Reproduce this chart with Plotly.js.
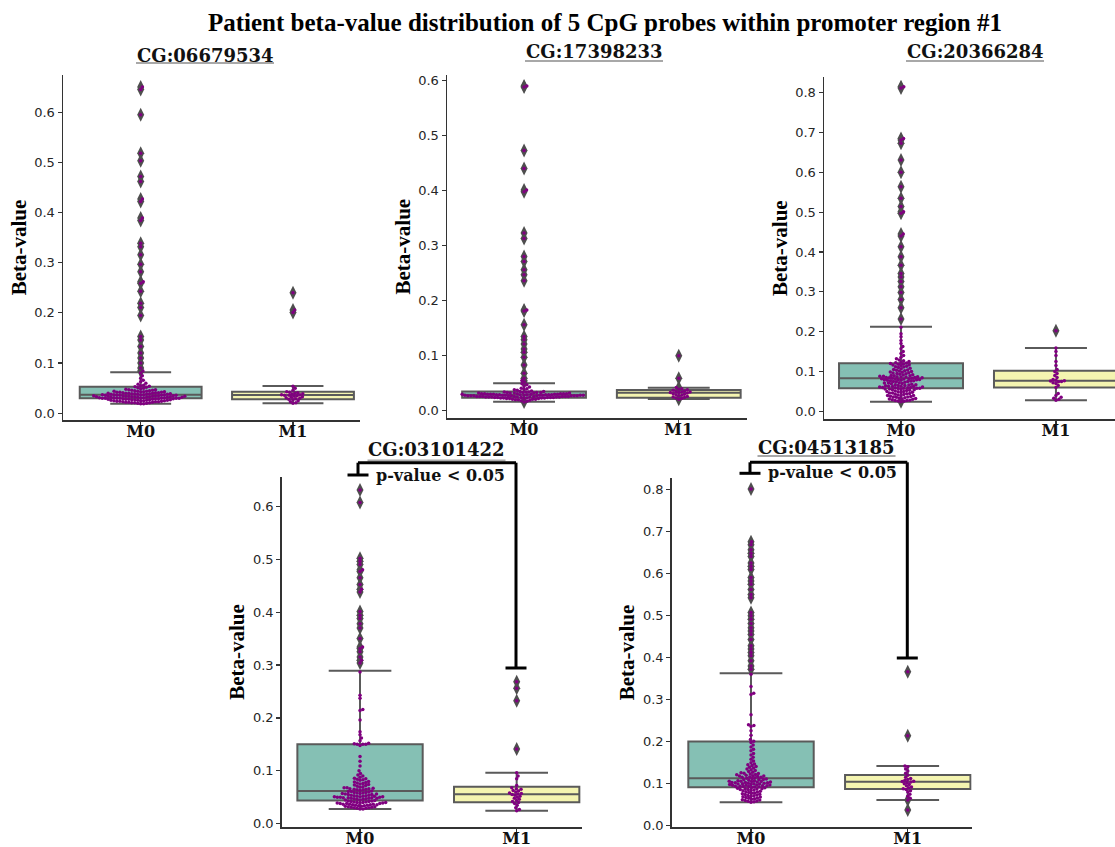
<!DOCTYPE html>
<html>
<head>
<meta charset="utf-8">
<script src="https://cdn.plot.ly/plotly-3.0.1.min.js"></script>
<style>html,body{margin:0;padding:0;background:#fff;}#chart{width:1115px;height:847px;}</style>
</head>
<body>
<div id="chart"></div>
<script>
// ---------------- DATA ----------------
const mainTitle = 'Patient beta-value distribution of 5 CpG probes within promoter region #1';
const probes = ['CG:06679534', 'CG:17398233', 'CG:20366284', 'CG:03101422', 'CG:04513185'];
const groups = ['M0', 'M1'];
const yTitle = 'Beta-value';
const pLabel = 'p-value &lt; 0.05';

// box statistics per probe: [M0, M1]
const q1Vals     = [[0.030, 0.028], [0.0236, 0.0236], [0.0577, 0.060], [0.044, 0.0404], [0.0913, 0.0873]];
const medianVals = [[0.037, 0.0365], [0.029, 0.0327], [0.0828, 0.077], [0.0618, 0.0555], [0.1127, 0.1046]];
const q3Vals     = [[0.053, 0.043], [0.035, 0.0376], [0.1205, 0.102], [0.150, 0.070], [0.200, 0.1206]];
const lowerVals  = [[0.019, 0.020], [0.0164, 0.0213], [0.0241, 0.028], [0.0278, 0.0246], [0.0556, 0.0611]];
const upperVals  = [[0.0817, 0.0544], [0.0498, 0.0418], [0.2125, 0.159], [0.289, 0.0965], [0.3624, 0.142]];

// patient beta-values
const cg06679534_M0 = [0.650,0.645,0.595,0.518,0.503,0.472,0.462,0.427,0.422,0.389,0.384,0.339,0.332,0.316,0.297,0.282,0.262,0.259,0.243,0.219,0.211,0.195,0.153,0.146,0.133,0.120,0.110,0.100,0.090,0.084,
0.080,0.075,0.070,0.066,0.063,0.060,0.058,0.056,0.055,0.054,
0.053,0.052,0.051,0.050,0.049,0.048,0.047,0.047,0.046,0.046,0.045,0.045,0.044,0.044,0.044,0.043,0.043,0.043,0.042,0.042,0.042,0.041,0.041,0.041,0.040,0.040,0.040,0.040,0.039,0.039,0.039,0.039,0.038,0.038,0.038,0.038,0.037,0.037,
0.037,0.037,0.037,0.036,0.036,0.036,0.036,0.036,0.035,0.035,0.035,0.035,0.035,0.034,0.034,0.034,0.034,0.034,0.033,0.033,0.033,0.033,0.033,0.032,0.032,0.032,0.032,0.032,0.031,0.031,0.031,0.031,0.031,0.030,0.030,0.030,0.030,0.030,
0.030,0.030,0.029,0.029,0.029,0.029,0.028,0.028,0.028,0.028,0.027,0.027,0.027,0.027,0.026,0.026,0.026,0.026,0.025,0.025,0.025,0.025,0.024,0.024,0.024,0.023,0.023,0.023,0.022,0.022,0.022,0.021,0.021,0.021,0.020,0.020,0.019,0.019];
const cg06679534_M1 = [0.240,0.206,0.201,0.054,0.050,0.046,0.043,0.042,0.041,0.040,0.039,0.038,0.037,0.037,0.036,0.036,0.035,0.034,0.033,0.032,0.031,0.030,0.029,0.028,0.027,0.025,0.023,0.021,0.020];

const cg17398233_M0 = [0.590,0.588,0.473,0.440,0.401,0.398,0.323,0.313,0.280,0.271,0.256,0.247,0.236,0.183,0.181,0.156,0.135,0.129,0.121,0.112,0.106,0.097,0.083,0.068,0.059,0.055,0.052,
0.049,0.047,0.045,0.043,0.041,0.040,0.039,0.038,0.037,0.036,
0.035,0.035,0.034,0.034,0.034,0.033,0.033,0.033,0.033,0.032,0.032,0.032,0.032,0.032,0.031,0.031,0.031,0.031,0.031,0.031,0.030,0.030,0.030,0.030,0.030,0.030,0.030,0.029,0.029,0.029,0.029,0.029,0.029,0.029,
0.028,0.028,0.028,0.028,0.028,0.028,0.028,0.028,0.027,0.027,0.027,0.027,0.027,0.027,0.027,0.027,0.027,0.026,0.026,0.026,0.026,0.026,0.026,0.026,0.026,0.025,0.025,0.025,0.025,0.025,0.025,0.025,0.024,0.024,0.024,0.024,0.024,0.024,
0.023,0.023,0.023,0.023,0.023,0.022,0.022,0.022,0.022,0.021,0.021,0.021,0.020,0.020,0.019,0.018,0.017,0.016];
const cg17398233_M1 = [0.100,0.059,0.042,0.040,0.039,0.038,0.037,0.036,0.035,0.034,0.034,0.033,0.033,0.032,0.031,0.030,0.029,0.028,0.027,0.026,0.025,0.024,0.023,0.022,0.021];

const cg20366284_M0 = [0.815,0.812,0.685,0.681,0.673,0.631,0.600,0.564,0.535,0.514,0.501,0.497,0.445,0.440,0.413,0.388,0.367,0.346,0.337,0.326,0.313,0.298,0.281,0.260,0.232,
0.211,0.195,0.187,0.178,0.170,0.163,0.157,0.150,0.145,0.140,0.136,0.132,0.129,0.127,0.125,0.123,0.122,0.121,
0.120,0.119,0.118,0.117,0.116,0.115,0.113,0.112,0.111,0.110,0.108,0.107,0.105,0.104,0.103,0.102,0.101,0.100,0.099,0.098,0.097,0.096,0.095,0.094,0.093,0.092,0.091,0.090,0.089,0.089,0.088,0.088,0.087,0.087,0.086,0.086,0.085,0.085,0.084,0.084,0.083,0.083,
0.082,0.082,0.081,0.081,0.080,0.080,0.079,0.079,0.078,0.078,0.077,0.077,0.076,0.075,0.075,0.074,0.073,0.072,0.071,0.071,0.070,0.069,0.068,0.067,0.067,0.066,0.065,0.065,0.064,0.063,0.063,0.062,0.062,0.061,0.061,0.060,0.060,0.059,0.059,0.058,0.058,0.058,
0.057,0.056,0.056,0.055,0.054,0.054,0.053,0.052,0.051,0.050,0.050,0.049,0.048,0.047,0.046,0.046,0.045,0.044,0.043,0.042,0.041,0.040,0.040,0.039,0.038,0.037,0.036,0.036,0.035,0.034,0.033,0.032,0.031,0.031,0.030,0.029,0.028,0.027,0.027,0.026,0.025,0.024];
const cg20366284_M1 = [0.202,0.159,0.150,0.140,0.125,0.115,0.105,0.100,0.095,0.090,0.085,0.080,0.078,0.077,0.076,0.075,0.074,0.072,0.070,0.065,0.060,0.045,0.040,0.035,0.033,0.030,0.028];

const cg03101422_M0 = [0.631,0.607,0.502,0.496,0.490,0.480,0.477,0.465,0.452,0.443,0.438,0.401,0.394,0.388,0.378,0.370,0.350,0.334,0.331,0.325,0.315,0.309,0.304,
0.287,0.243,0.237,0.216,0.214,0.196,0.174,0.168,0.162,0.157,0.152,0.151,0.150,0.150,
0.150,0.148,0.127,0.118,0.109,0.100,0.095,0.092,0.090,0.088,0.086,0.085,0.084,0.083,0.082,0.080,0.079,0.078,0.077,0.076,0.075,0.074,0.073,0.072,0.071,0.070,0.069,0.068,0.068,0.067,0.066,0.066,0.065,0.065,0.064,0.064,0.063,0.062,
0.061,0.061,0.060,0.059,0.059,0.058,0.058,0.057,0.057,0.056,0.056,0.055,0.055,0.054,0.054,0.053,0.053,0.052,0.052,0.052,0.051,0.051,0.051,0.050,0.050,0.050,0.049,0.049,0.049,0.048,0.048,0.048,0.047,0.047,0.046,0.046,0.045,0.045,
0.044,0.043,0.043,0.042,0.042,0.041,0.041,0.040,0.040,0.040,0.039,0.039,0.039,0.038,0.038,0.038,0.037,0.037,0.037,0.036,0.036,0.036,0.035,0.035,0.034,0.034,0.033,0.033,0.032,0.032,0.031,0.031,0.030,0.030,0.029,0.029,0.028,0.028];
const cg03101422_M1 = [0.2685,0.256,0.2326,0.1412,0.0965,0.090,0.085,0.072,0.068,0.066,0.065,0.063,0.062,0.060,0.058,0.057,0.056,0.055,0.054,0.052,0.050,0.048,0.046,0.044,0.042,0.040,0.038,0.035,0.030,0.027,0.0246];

const cg04513185_M0 = [0.801,0.675,0.668,0.656,0.648,0.640,0.625,0.617,0.609,0.590,0.582,0.574,0.562,0.550,0.542,0.507,0.499,0.491,0.481,0.471,0.463,0.455,0.443,0.428,0.420,0.412,0.404,0.392,0.380,0.372,
0.360,0.331,0.315,0.312,0.264,0.240,0.238,0.236,0.226,0.215,0.205,0.201,
0.198,0.192,0.187,0.182,0.178,0.172,0.168,0.163,0.158,0.154,0.150,0.147,0.145,0.143,0.141,0.139,0.137,0.135,0.133,0.131,0.129,0.127,0.126,0.125,0.124,0.123,0.122,0.121,0.120,0.119,0.118,0.118,0.117,0.116,0.115,0.115,0.114,0.113,
0.112,0.111,0.110,0.110,0.109,0.108,0.107,0.107,0.106,0.106,0.105,0.105,0.104,0.104,0.103,0.103,0.102,0.102,0.101,0.101,0.100,0.100,0.099,0.099,0.098,0.098,0.097,0.097,0.096,0.096,0.095,0.095,0.094,0.094,0.093,0.093,0.092,0.092,
0.091,0.090,0.089,0.088,0.088,0.087,0.086,0.086,0.085,0.084,0.083,0.082,0.081,0.080,0.079,0.078,0.077,0.076,0.075,0.074,0.073,0.072,0.071,0.070,0.069,0.068,0.067,0.066,0.065,0.064,0.063,0.062,0.061,0.060,0.059,0.058,0.057,0.056];
const cg04513185_M1 = [0.366,0.214,0.0373,0.142,0.140,0.135,0.130,0.125,0.120,0.115,0.112,0.110,0.108,0.106,0.105,0.104,0.103,0.100,0.098,0.095,0.092,0.090,0.088,0.086,0.083,0.080,0.075,0.070,0.065,0.061];

const betaValues = [
  [cg06679534_M0, cg06679534_M1],
  [cg17398233_M0, cg17398233_M1],
  [cg20366284_M0, cg20366284_M1],
  [cg03101422_M0, cg03101422_M1],
  [cg04513185_M0, cg04513185_M1]
];

// ---------------- LAYOUT / STYLE ----------------
const W = 1115, H = 847;
const px2x = p => p / W;
const px2y = p => 1 - p / H;

// pixel frame of each panel (left, right, top, bottom) and axis ranges
const frames = [
  {l: 63,    r: 360,   t: 75,    b: 420,   xr: [-0.51, 1.44],  yr: [-0.0134, 0.674]},
  {l: 447,   r: 747,   t: 75,    b: 418.3, xr: [-0.498, 1.441], yr: [-0.0138, 0.610]},
  {l: 824,   r: 1115,  t: 77.3,  b: 419,   xr: [-0.497, 1.381], yr: [-0.0193, 0.8386]},
  {l: 281.7, r: 582,   t: 476.7, b: 827.3, xr: [-0.5, 1.417],   yr: [-0.0068, 0.656]},
  {l: 671.7, r: 971.7, t: 477.7, b: 827.3, xr: [-0.506, 1.408], yr: [-0.0038, 0.8276]}
];
const titlePos = [[205, 55, 63], [594, 52, 61], [975, 52, 61], [436.5, 449, 460.5], [826.5, 447.5, 456]];
const titleHalfW = 69;

const boxFill = ['#85c0b4', '#f4f4b0'];
const edge = '#5a5a5a';
const swarmColor = '#800080';
const flierColor = '#4e4e4e';
const dotSize = 3.5, dotGap = 3.0;

// beeswarm placement (pixel space), closest-to-centre like seaborn
function swarmOffsets(vals, pxPerY, d, maxHalf) {
  const order = vals.map((v, i) => i).sort((a, b) => vals[a] - vals[b]);
  const placed = [];
  const offs = new Array(vals.length).fill(0);
  for (const i of order) {
    const y = vals[i] * pxPerY;
    const near = placed.filter(p => Math.abs(p.y - y) < d);
    const cands = [0];
    near.forEach(p => {
      const dx = Math.sqrt(d * d - (p.y - y) * (p.y - y));
      cands.push(p.x + dx, p.x - dx);
    });
    cands.sort((a, b) => Math.abs(a) - Math.abs(b));
    let chosen = 0;
    for (const c of cands) {
      if (near.every(p => (p.x - c) * (p.x - c) + (p.y - y) * (p.y - y) >= d * d - 1e-6)) { chosen = c; break; }
    }
    placed.push({x: chosen, y: y});
    offs[i] = Math.max(-maxHalf, Math.min(maxHalf, chosen));
  }
  return offs;
}

const traces = [];
const layout = {
  width: W, height: H,
  margin: {l: 0, r: 0, t: 0, b: 0},
  paper_bgcolor: '#fff', plot_bgcolor: '#fff',
  showlegend: false,
  title: {
    text: '<b>' + mainTitle + '</b>',
    font: {family: 'Liberation Serif', size: 25, color: '#000'},
    x: px2x(605), xanchor: 'center', y: px2y(22), yanchor: 'middle'
  },
  annotations: [],
  shapes: []
};

probes.forEach((probe, k) => {
  const f = frames[k];
  const sfx = k === 0 ? '' : String(k + 1);
  const xa = 'x' + sfx, ya = 'y' + sfx;
  const pxPerX = (f.r - f.l) / (f.xr[1] - f.xr[0]);
  const pxPerY = (f.b - f.t) / (f.yr[1] - f.yr[0]);

  layout['xaxis' + sfx] = {
    domain: [px2x(f.l), px2x(f.r)], range: f.xr, anchor: ya,
    tickvals: [0, 1], ticktext: groups.map(g => '<b>' + g + '</b>'),
    tickfont: {family: 'DejaVu Serif', size: 16, color: '#111'},
    ticklabelstandoff: -8,
    showline: true, linecolor: '#333', linewidth: 1.5,
    ticks: 'outside', ticklen: 4, tickwidth: 1.2, tickcolor: '#333',
    showgrid: false, zeroline: false, fixedrange: true
  };
  layout['yaxis' + sfx] = {
    domain: [px2y(f.b), px2y(f.t)], range: f.yr, anchor: xa,
    tick0: 0, dtick: 0.1, tickformat: '.1f',
    tickfont: {family: 'DejaVu Sans', size: 13, color: '#262626'},
    showline: true, linecolor: '#333', linewidth: 1.5,
    ticks: 'outside', ticklen: 4, tickwidth: 1.2, tickcolor: '#333',
    showgrid: false, zeroline: false, fixedrange: true,
    title: {text: '<b>' + yTitle + '</b>', font: {family: 'Liberation Serif', size: 21, color: '#000'}, standoff: 2}
  };

  groups.forEach((g, gi) => {
    traces.push({
      type: 'box', name: g, x: [gi],
      q1: [q1Vals[k][gi]], median: [medianVals[k][gi]], q3: [q3Vals[k][gi]],
      lowerfence: [lowerVals[k][gi]], upperfence: [upperVals[k][gi]],
      width: 0.8, whiskerwidth: 0.5, boxpoints: false,
      fillcolor: boxFill[gi], line: {color: edge, width: 2},
      xaxis: xa, yaxis: ya, showlegend: false, hoverinfo: 'y'
    });
  });

  groups.forEach((g, gi) => {
    const vals = betaValues[k][gi];
    const fl = vals.filter(v => v > upperVals[k][gi] || v < lowerVals[k][gi]);
    traces.push({
      type: 'scatter', mode: 'markers', name: g + ' outliers',
      x: fl.map(() => gi), y: fl,
      marker: {symbol: 'diamond-tall', size: 10, color: flierColor},
      xaxis: xa, yaxis: ya, showlegend: false, hoverinfo: 'y'
    });
  });

  groups.forEach((g, gi) => {
    const vals = betaValues[k][gi];
    const offs = swarmOffsets(vals, pxPerY, dotGap, 0.4 * pxPerX);
    traces.push({
      type: 'scatter', mode: 'markers', name: g,
      x: vals.map((v, i) => gi + offs[i] / pxPerX), y: vals,
      marker: {symbol: 'circle', size: dotSize, color: swarmColor, line: {width: 0}},
      xaxis: xa, yaxis: ya, showlegend: false, hoverinfo: 'y'
    });
  });

  const tp = titlePos[k];
  layout.annotations.push({
    text: '<b>' + probe + '</b>', xref: 'paper', yref: 'paper',
    x: px2x(tp[0]), y: px2y(tp[1]), xanchor: 'center', yanchor: 'middle',
    showarrow: false, font: {family: 'DejaVu Serif', size: 18, color: '#111'}
  });
  layout.shapes.push({
    type: 'line', xref: 'paper', yref: 'paper',
    x0: px2x(tp[0] - titleHalfW), x1: px2x(tp[0] + titleHalfW), y0: px2y(tp[2]), y1: px2y(tp[2]),
    line: {color: '#a8a8a8', width: 2}
  });
});

// significance brackets (pixel frames)
const brackets = [
  {x0: 358, x1: 516, top: 462.7, leftEnd: 475, rightEnd: 668, foot: 10.5, tx: 440.5, ty: 475},
  {x0: 750, x1: 907.3, top: 462.3, leftEnd: 473.3, rightEnd: 658, foot: 10.5, tx: 832, ty: 473}
];
brackets.forEach(b => {
  const segs = [
    [b.x0, b.top, b.x1, b.top],
    [b.x0, b.top, b.x0, b.leftEnd],
    [b.x0 - b.foot, b.leftEnd, b.x0 + b.foot, b.leftEnd],
    [b.x1, b.top, b.x1, b.rightEnd],
    [b.x1 - b.foot, b.rightEnd, b.x1 + b.foot, b.rightEnd]
  ];
  segs.forEach(s => layout.shapes.push({
    type: 'line', xref: 'paper', yref: 'paper',
    x0: px2x(s[0]), y0: px2y(s[1]), x1: px2x(s[2]), y1: px2y(s[3]),
    line: {color: '#000', width: 3}
  }));
  layout.annotations.push({
    text: '<b>' + pLabel + '</b>', xref: 'paper', yref: 'paper',
    x: px2x(b.tx), y: px2y(b.ty), xanchor: 'center', yanchor: 'middle',
    showarrow: false, font: {family: 'DejaVu Serif', size: 16, color: '#111'}
  });
});

Plotly.newPlot('chart', traces, layout, {displayModeBar: false, staticPlot: true});
</script>
</body>
</html>
